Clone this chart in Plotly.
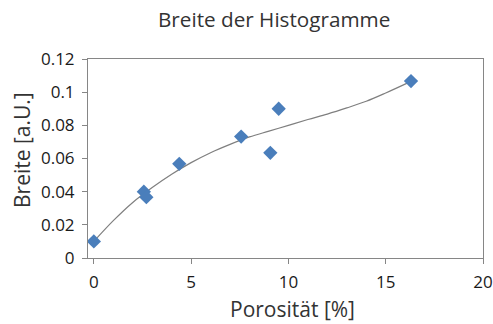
import plotly.graph_objects as go

# measured data
porositaet = [0.0, 2.57, 2.7, 4.39, 7.57, 9.07, 9.5, 16.3]
breite = [0.010, 0.040, 0.0367, 0.0568, 0.0732, 0.0634, 0.090, 0.1067]

# trend line
trend_x = [0, 1, 2, 3, 4, 5, 6, 7, 8, 9, 10, 11, 12, 13, 14, 15, 16.3]
trend_y = [0.0100, 0.0225, 0.0335, 0.0425, 0.0505, 0.0575, 0.0635, 0.0685,
           0.0730, 0.0765, 0.0800, 0.0835, 0.0868, 0.0905, 0.0945, 0.0995, 0.1065]

x_ticks = [0, 5, 10, 15, 20]
y_ticks = [0, 0.02, 0.04, 0.06, 0.08, 0.1, 0.12]
y_tick_labels = ["0", "0.02", "0.04", "0.06", "0.08", "0.1", "0.12"]

title_text = "Breite der Histogramme"
x_title = "Porosität [%]"
y_title = "Breite [a.U.]"

FONT = "Open Sans"
W, H = 493, 324
L, R, T, B = 88, 10, 59, 66

fig = go.Figure()
fig.add_trace(go.Scatter(x=trend_x, y=trend_y, mode="lines", line_shape="spline",
                         line=dict(color="#7f7f7f", width=1.2), showlegend=False,
                         hoverinfo="skip"))
fig.add_trace(go.Scatter(x=porositaet, y=breite, mode="markers",
                         marker=dict(symbol="diamond", size=11, color="#4a7ebb"),
                         showlegend=False))

def px_x(p):
    return (p - L) / (W - L - R)

def px_y(p):
    return 1 - (p - T) / (H - T - B)

fig.update_layout(
    width=W, height=H,
    margin=dict(l=L, r=R, t=T, b=B),
    paper_bgcolor="white", plot_bgcolor="white",
    font=dict(family=FONT, color="#1a1a1a"),
    xaxis=dict(range=[-0.3, 20], tickvals=x_ticks, ticks="outside", ticklen=5,
               tickcolor="#868686", linecolor="#868686", linewidth=1, mirror=True,
               showgrid=False, zeroline=False, tickfont=dict(size=17),
               ticklabelstandoff=4, automargin=False),
    yaxis=dict(range=[0, 0.12], tickvals=y_ticks, ticktext=y_tick_labels,
               ticks="outside", ticklen=5, tickcolor="#868686",
               linecolor="#868686", linewidth=1, mirror=True,
               showgrid=False, zeroline=False, tickfont=dict(size=17),
               ticklabelstandoff=4, automargin=False),
    annotations=[
        dict(text=title_text, xref="paper", yref="paper", x=px_x(274), y=px_y(19),
             xanchor="center", yanchor="middle", showarrow=False,
             font=dict(family=FONT, size=20.7, color="#333333")),
        dict(text=x_title, xref="paper", yref="paper", x=px_x(292), y=px_y(309),
             xanchor="center", yanchor="middle", showarrow=False,
             font=dict(family=FONT, size=21, color="#333333")),
        dict(text=y_title, xref="paper", yref="paper", x=px_x(22), y=px_y(150),
             xanchor="center", yanchor="middle", showarrow=False, textangle=-90,
             font=dict(family=FONT, size=21, color="#333333")),
    ],
)

fig.write_html("out.html")
